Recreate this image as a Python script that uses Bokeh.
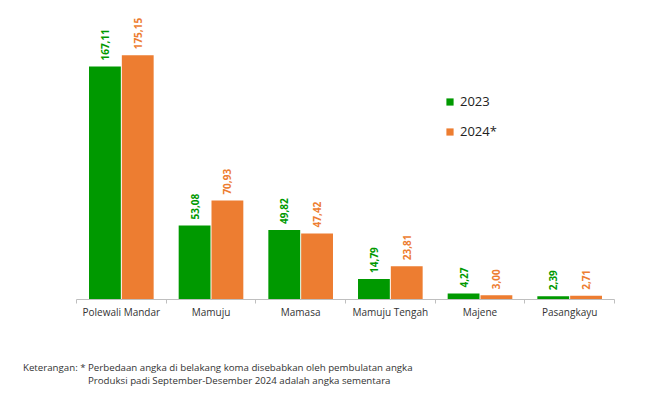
import math
from bokeh.plotting import figure
from bokeh.layouts import column
from bokeh.models import (Range1d, FixedTicker, LinearAxis, Legend, LegendItem,
                          Div, ColumnDataSource)
from bokeh.core.properties import value
from bokeh.embed import file_html
from bokeh.resources import INLINE

categories = ["Polewali Mandar", "Mamuju", "Mamasa", "Mamuju Tengah", "Majene", "Pasangkayu"]
values_2023 = [167.11, 53.08, 49.82, 14.79, 4.27, 2.39]
values_2024 = [175.15, 70.93, 47.42, 23.81, 3.00, 2.71]
series_names = ["2023", "2024*"]
footnote_1 = "Keterangan: * Perbedaan angka di belakang koma disebabkan oleh pembulatan angka"
footnote_2 = "Produksi padi September-Desember 2024 adalah angka sementara"

GREEN = "#009900"
ORANGE = "#ED7D31"
FONT = "Open Sans"

def fmt(v):
    return f"{v:.2f}".replace(".", ",")

n = len(categories)
centers = [i + 0.5 for i in range(n)]
src23 = ColumnDataSource(dict(x=[c - 0.183 for c in centers], y=values_2023,
                              lab=[fmt(v) for v in values_2023]))
src24 = ColumnDataSource(dict(x=[c + 0.183 for c in centers], y=values_2024,
                              lab=[fmt(v) for v in values_2024]))

p = figure(width=660, height=329, output_backend="svg", toolbar_location=None,
           x_range=Range1d(0, n), y_range=Range1d(0, 207.3),
           x_axis_location=None, y_axis_location=None,
           min_border_left=76, min_border_right=46, min_border_top=10, min_border_bottom=30)
p.outline_line_color = None
p.xgrid.visible = False
p.ygrid.visible = False

r23 = p.vbar(x="x", top="y", width=0.355, source=src23, fill_color=GREEN, line_color=None)
r24 = p.vbar(x="x", top="y", width=0.355, source=src24, fill_color=ORANGE, line_color=None)

for src, col in ((src23, GREEN), (src24, ORANGE)):
    p.text(x="x", y="y", text="lab", source=src, angle=math.pi / 2,
           text_align="left", text_baseline="middle", x_offset=0, y_offset=-6,
           text_font=value(FONT), text_font_size="10px", text_font_style="bold",
           text_color=col)

axis = LinearAxis(ticker=FixedTicker(ticks=centers, minor_ticks=list(range(n + 1))),
                  major_label_overrides={c: name for c, name in zip(centers, categories)},
                  major_tick_line_color=None, major_tick_out=4, major_tick_in=0,
                  minor_tick_line_color="#bfbfbf", minor_tick_out=4, minor_tick_in=0,
                  axis_line_color="#bfbfbf",
                  major_label_text_font=FONT, major_label_text_font_size="10px",
                  major_label_text_color="#333333", major_label_standoff=1)
p.add_layout(axis, "below")

legend = Legend(items=[LegendItem(label=series_names[0], renderers=[r23]),
                       LegendItem(label=series_names[1], renderers=[r24])],
                location=(369, 158), padding=0, margin=0, spacing=10,
                glyph_width=9, glyph_height=9, label_height=20, label_standoff=6,
                label_text_font=FONT, label_text_font_size="13px",
                label_text_color="#222222",
                background_fill_alpha=0, border_line_color=None)
p.add_layout(legend, "center")

line_style = ("position:absolute;white-space:nowrap;line-height:12px;"
              "font-family:'Open Sans';font-size:9.7px;color:#333333;")
note = Div(width=660, height=63, margin=0,
           text=(f'<div style="position:relative;width:660px;height:63px;">'
                 f'<div style="{line_style}left:23px;top:33px;">{footnote_1}</div>'
                 f'<div style="{line_style}left:88px;top:46px;">{footnote_2}</div>'
                 f'</div>'))

open("out.html", "w").write(file_html(column(p, note), INLINE))
